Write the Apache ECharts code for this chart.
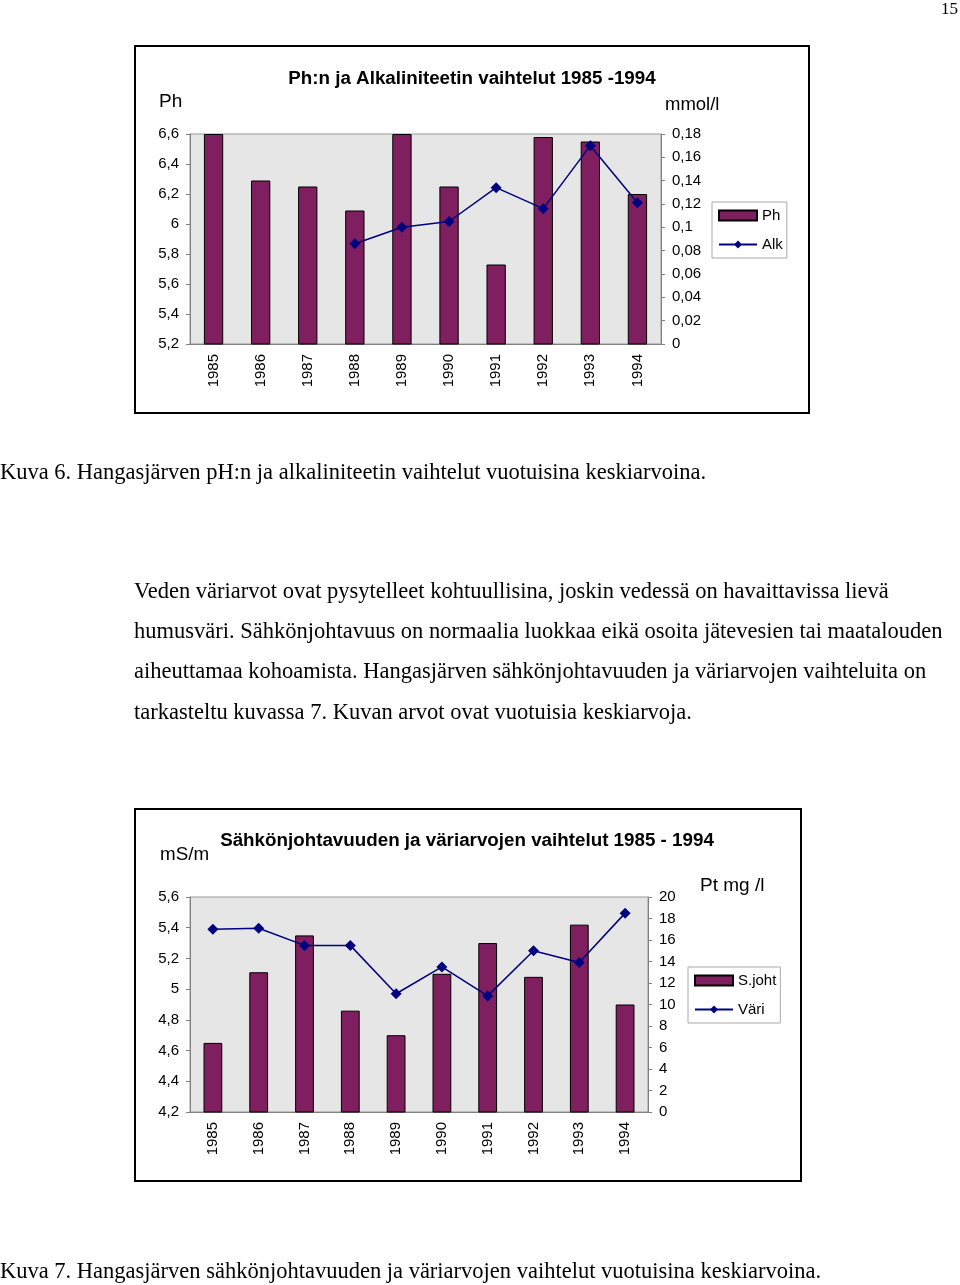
<!DOCTYPE html>
<html><head><meta charset="utf-8">
<script src="https://cdn.jsdelivr.net/npm/echarts@6/dist/echarts.min.js"></script>
<style>html,body{margin:0;padding:0;background:#fff}#c{width:960px;height:1285px}</style>
</head><body><div id="c"></div>
<script>
const years = ['1985','1986','1987','1988','1989','1990','1991','1992','1993','1994'];
const phValues = [6.6, 6.29, 6.25, 6.09, 6.6, 6.25, 5.73, 6.58, 6.55, 6.2];
const alkValues = [null, null, null, 0.086, 0.100, 0.105, 0.134, 0.116, 0.170, 0.121];
const sjohtValues = [4.65, 5.11, 5.35, 4.86, 4.70, 5.10, 5.30, 5.08, 5.42, 4.90];
const variValues = [17.0, 17.1, 15.5, 15.5, 11.0, 13.5, 10.8, 15.0, 13.9, 18.5];

const title1 = 'Ph:n ja Alkaliniteetin vaihtelut 1985 -1994';
const title2 = 'Sähkönjohtavuuden ja väriarvojen vaihtelut 1985 - 1994';
const caption6 = 'Kuva 6. Hangasjärven pH:n ja alkaliniteetin vaihtelut vuotuisina keskiarvoina.';
const caption7 = 'Kuva 7. Hangasjärven sähkönjohtavuuden ja väriarvojen vaihtelut vuotuisina keskiarvoina.';
const paragraph = [
 'Veden väriarvot ovat pysytelleet kohtuullisina, joskin vedessä on havaittavissa lievä',
 'humusväri. Sähkönjohtavuus on normaalia luokkaa eikä osoita jätevesien tai maatalouden',
 'aiheuttamaa kohoamista. Hangasjärven sähkönjohtavuuden ja väriarvojen vaihteluita on',
 'tarkasteltu kuvassa 7. Kuvan arvot ovat vuotuisia keskiarvoja.'
];

const SANS = '"Liberation Sans", Arial, sans-serif';
const SERIF = '"Liberation Serif", "Times New Roman", serif';
const BAR = '#7f1f5f', LINE = '#000080', AX = '#808080';
const fmt = v => String(parseFloat(v.toFixed(4))).replace('.', ',');

const chart = echarts.init(document.getElementById('c'), null, {renderer:'canvas'});

function xAx(gi){
  return {type:'category', gridIndex:gi, data:years, boundaryGap:true,
    axisLine:{lineStyle:{color:AX}}, axisTick:{lineStyle:{color:AX}, length:4},
    axisLabel:{rotate:90, color:'#000', fontFamily:SANS, fontSize:15, margin:10}};
}
function yAx(gi,pos,min,max,intv){
  return {type:'value', gridIndex:gi, position:pos, min:min, max:max, interval:intv,
    splitLine:{show:false},
    axisLine:{show:true, lineStyle:{color:AX}}, axisTick:{show:true, length:4, lineStyle:{color:AX}},
    axisLabel:{color:'#000', fontFamily:SANS, fontSize:15, margin:11, formatter:fmt}};
}
function txt(x,y,text,font,align){
  return {type:'text', x:x, y:y, style:{text:text, font:font, fill:'#000', align:align||'left', verticalAlign:'middle'}};
}
function legendCfg(names,left,top){
  return {data:[{name:names[0], icon:'rect'}, {name:names[1]}], left:left, top:top, orient:'vertical',
    borderColor:'#aaa', borderWidth:1, padding:[6,4,6,6], itemWidth:38, itemHeight:10, itemGap:14,
    textStyle:{fontFamily:SANS, fontSize:15, color:'#000', padding:[0,0,0,0]}};
}

const option = {
  backgroundColor:'#fff',
  animation:false,
  grid:[
    {left:190, top:134, width:471, height:210, show:true, backgroundColor:'#e6e6e6', borderColor:'#999', borderWidth:1},
    {left:190, top:897, width:458, height:215, show:true, backgroundColor:'#e6e6e6', borderColor:'#999', borderWidth:1}
  ],
  xAxis:[xAx(0), xAx(1)],
  yAxis:[yAx(0,'left',5.2,6.6,0.2), yAx(0,'right',0,0.18,0.02),
         yAx(1,'left',4.2,5.6,0.2), yAx(1,'right',0,20,2)],
  legend:[legendCfg(['Ph','Alk'],712,202), legendCfg(['S.joht','Väri'],688,967)],
  series:[
    {name:'Ph', type:'bar', xAxisIndex:0, yAxisIndex:0, data:phValues, barWidth:'41%', clip:true,
     itemStyle:{color:BAR, borderColor:'#000', borderWidth:1}},
    {name:'Alk', type:'line', xAxisIndex:0, yAxisIndex:1, data:alkValues, symbol:'diamond', symbolSize:11,
     connectNulls:false, lineStyle:{color:LINE, width:1.5}, itemStyle:{color:LINE}},
    {name:'S.joht', type:'bar', xAxisIndex:1, yAxisIndex:2, data:sjohtValues, barWidth:'41%', clip:true,
     itemStyle:{color:BAR, borderColor:'#000', borderWidth:1}},
    {name:'Väri', type:'line', xAxisIndex:1, yAxisIndex:3, data:variValues, symbol:'diamond', symbolSize:11,
     lineStyle:{color:LINE, width:1.5}, itemStyle:{color:LINE}}
  ],
  graphic:[
    {type:'rect', shape:{x:135, y:46, width:674, height:367}, style:{fill:null, stroke:'#000', lineWidth:2}, z:-1},
    {type:'rect', shape:{x:135, y:809, width:666, height:372}, style:{fill:null, stroke:'#000', lineWidth:2}, z:-1},
    txt(472,79,title1,'bold 18.8px '+SANS,'center'),
    txt(159,102,'Ph','19px '+SANS),
    txt(665,105,'mmol/l','18.5px '+SANS),
    txt(467,841,title2,'bold 18.8px '+SANS,'center'),
    txt(160,855,'mS/m','18.8px '+SANS),
    txt(700,886,'Pt mg /l','19px '+SANS),
    txt(958,10,'15','17px '+SERIF,'right'),
    txt(0,473,caption6,'22.5px '+SERIF),
    txt(134,592,paragraph[0],'22.5px '+SERIF),
    txt(134,632,paragraph[1],'22.5px '+SERIF),
    txt(134,672,paragraph[2],'22.5px '+SERIF),
    txt(134,713,paragraph[3],'22.5px '+SERIF),
    txt(0,1272,caption7,'22.5px '+SERIF)
  ]
};
chart.setOption(option);
</script></body></html>
